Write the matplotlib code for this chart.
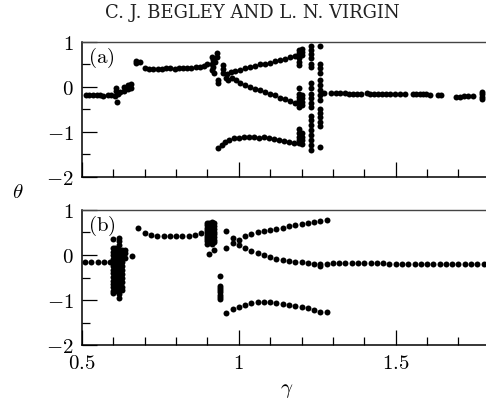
import matplotlib
matplotlib.use("Agg")
import matplotlib.pyplot as plt
from matplotlib.ticker import FixedLocator, FixedFormatter, MultipleLocator, NullFormatter

plt.rcParams["mathtext.fontset"] = "cm"

# ---------------- panel (a): measured response ----------------
a_p1_lo_g = [0.513, 0.523, 0.534, 0.547, 0.557, 0.568, 0.582, 0.591]
a_p1_lo_t = [-0.19, -0.19, -0.18, -0.19, -0.19, -0.20, -0.19, -0.19]

a_tr1_g = [0.605, 0.610, 0.610, 0.612, 0.615, 0.622, 0.633, 0.633, 0.647, 0.647, 0.656, 0.656]
a_tr1_t = [-0.20, -0.10, -0.03, -0.33, -0.16, -0.12, 0.00, -0.09, 0.04, -0.05, 0.06, -0.02]

a_p1_hi_g = [0.672, 0.672, 0.684, 0.700, 0.714, 0.727, 0.741, 0.754, 0.768, 0.781,
             0.795, 0.808, 0.822, 0.835, 0.849, 0.862, 0.876, 0.889]
a_p1_hi_t = [0.58, 0.53, 0.55, 0.41, 0.40, 0.40, 0.40, 0.40, 0.41, 0.41,
             0.40, 0.41, 0.42, 0.42, 0.43, 0.44, 0.45, 0.46]

a_ch1_g = [0.900, 0.915, 0.915, 0.915, 0.918, 0.918, 0.920, 0.924, 0.929, 0.929,
           0.932, 0.934, 0.950, 0.950, 0.950, 0.958, 0.963, 0.967, 0.975, 0.978,
           0.988, 0.990]
a_ch1_t = [0.50, 0.67, 0.52, 0.38, 0.60, 0.45, 0.30, 0.55, 0.76, 0.67,
           0.15, 0.08, 0.49, 0.40, 0.31, 0.20, 0.28, 0.16, 0.33, 0.20,
           0.36, 0.15]

a_p3_g = [1.003, 1.019, 1.035, 1.051, 1.067, 1.083, 1.099, 1.115, 1.131, 1.147, 1.163, 1.179]
a_p3_up = [0.38, 0.41, 0.44, 0.47, 0.50, 0.52, 0.54, 0.57, 0.60, 0.63, 0.66, 0.69]
a_p3_mid = [0.09, 0.03, -0.01, -0.05, -0.08, -0.11, -0.15, -0.19, -0.24, -0.28, -0.32, -0.36]

a_p3_lo_g = [0.934, 0.945, 0.955, 0.970, 0.985, 1.000, 1.016, 1.032, 1.048, 1.064,
             1.080, 1.096, 1.112, 1.128, 1.144, 1.160, 1.176]
a_p3_lo_t = [-1.36, -1.29, -1.23, -1.18, -1.15, -1.14, -1.13, -1.12, -1.13, -1.14,
             -1.13, -1.15, -1.16, -1.18, -1.20, -1.23, -1.26]

a_ch2_g = ([1.192] * 17 + [1.202] * 11 + [1.229] * 20 + [1.258] * 15)
a_ch2_t = ([0.82, 0.76, 0.71, 0.64, 0.56, 0.49, -0.03, -0.15, -0.22, -0.29, -0.37, -0.44,
            -0.93, -1.04, -1.11, -1.19, -1.26]
           + [0.85, 0.78, 0.71, -0.18, -0.26, -0.33, -0.41, -1.04, -1.11, -1.19, -1.28]
           + [0.91, 0.82, 0.73, 0.64, 0.52, 0.44, 0.08, -0.03, -0.15, -0.26, -0.37, -0.46,
              -0.65, -0.74, -0.85, -0.96, -1.08, -1.19, -1.30, -1.40]
           + [0.90, 0.52, 0.41, 0.31, 0.15, 0.04, -0.07, -0.18, -0.29, -0.50, -0.59,
              -0.68, -0.78, -0.88, -1.34])

a_p1_end_g = [1.271, 1.295, 1.311, 1.324, 1.338, 1.351, 1.364, 1.377, 1.391, 1.407,
              1.417, 1.430, 1.443, 1.457, 1.470, 1.483, 1.497, 1.513, 1.529, 1.555,
              1.566, 1.576, 1.587, 1.598, 1.608, 1.635, 1.645, 1.693, 1.704, 1.717,
              1.730, 1.746, 1.774, 1.774, 1.774, 1.774]
a_p1_end_t = [-0.13, -0.13, -0.13, -0.14, -0.14, -0.15, -0.15, -0.16, -0.15, -0.14,
              -0.15, -0.15, -0.16, -0.16, -0.16, -0.15, -0.16, -0.17, -0.17, -0.17,
              -0.17, -0.17, -0.17, -0.17, -0.18, -0.19, -0.19, -0.23, -0.22, -0.21,
              -0.21, -0.20, -0.12, -0.17, -0.22, -0.27]

# ---------------- panel (b): simulated response ----------------
b_p1_lo_g = [0.51, 0.53, 0.55, 0.57, 0.59]
b_p1_lo_t = [-0.15, -0.15, -0.15, -0.15, -0.15]

b_ch1_g = ([0.598] * 15 + [0.606] * 12 + [0.619] * 16 + [0.627] * 11 + [0.638] * 3 + [0.660])
b_ch1_t = ([0.35, 0.15, 0.07, -0.01, -0.09, -0.17, -0.25, -0.33, -0.41, -0.49, -0.57,
            -0.65, -0.72, -0.80, -0.85]
           + [0.15, 0.06, -0.03, -0.12, -0.21, -0.30, -0.39, -0.48, -0.57, -0.66, -0.74, -0.81]
           + [0.37, 0.30, 0.22, 0.12, 0.03, -0.06, -0.15, -0.24, -0.33, -0.42, -0.51,
              -0.60, -0.69, -0.78, -0.87, -0.96]
           + [0.11, 0.02, -0.07, -0.16, -0.25, -0.34, -0.43, -0.52, -0.61, -0.70, -0.78]
           + [0.11, 0.04, -0.07] + [-0.02])

b_p1_hi_g = [0.68, 0.70, 0.72, 0.74, 0.76, 0.78, 0.80, 0.82, 0.84, 0.86, 0.88]
b_p1_hi_t = [0.59, 0.48, 0.44, 0.42, 0.415, 0.415, 0.415, 0.42, 0.43, 0.45, 0.48]

b_ch2_g = ([0.897] * 10 + [0.905] * 10 + [0.913] * 10 + [0.920] * 9)
b_ch2_t = ([0.72, 0.66, 0.60, 0.55, 0.50, 0.45, 0.40, 0.35, 0.30, 0.25]
           + [0.70, 0.64, 0.58, 0.52, 0.47, 0.42, 0.38, 0.33, 0.28, 0.03]
           + [0.74, 0.68, 0.62, 0.56, 0.50, 0.45, 0.40, 0.36, 0.30, 0.25]
           + [0.72, 0.65, 0.58, 0.52, 0.46, 0.40, 0.34, 0.28, 0.10])

b_win_g = [0.940] * 8
b_win_t = [-0.47, -0.68, -0.73, -0.78, -0.83, -0.88, -0.93, -0.98]

b_p3_g = [0.96, 0.98, 1.00, 1.02, 1.04, 1.06, 1.08, 1.10, 1.12, 1.14,
          1.16, 1.18, 1.20, 1.22, 1.24, 1.26, 1.28]
b_p3_up = [0.54, 0.37, 0.34, 0.43, 0.47, 0.50, 0.53, 0.555, 0.58, 0.61,
           0.635, 0.665, 0.69, 0.71, 0.73, 0.75, 0.77]
b_p3_mid = [0.15, 0.27, 0.23, 0.15, 0.08, 0.04, 0.00, -0.04, -0.08, -0.115,
            -0.135, -0.15, -0.165, -0.175, -0.19, -0.235, -0.205]
b_p3_lo = [-1.29, -1.20, -1.15, -1.10, -1.07, -1.05, -1.05, -1.05, -1.06, -1.08,
           -1.11, -1.13, -1.16, -1.18, -1.22, -1.26, -1.27]

b_p1_end_g = [1.26, 1.30, 1.32, 1.34, 1.36, 1.38, 1.40, 1.42, 1.44, 1.46, 1.48,
              1.50, 1.52, 1.54, 1.56, 1.58, 1.60, 1.62, 1.64, 1.66, 1.68, 1.70,
              1.72, 1.74, 1.76, 1.78]
b_p1_end_t = [-0.20, -0.18, -0.18, -0.18, -0.18, -0.18, -0.18, -0.18, -0.185, -0.185,
              -0.19, -0.19, -0.19, -0.19, -0.19, -0.19, -0.19, -0.19, -0.19, -0.19,
              -0.195, -0.195, -0.195, -0.195, -0.20, -0.20]

x_tick_vals = [0.5, 1.0, 1.5]
x_tick_labels = ["0.5", "1", "1.5"]
y_tick_vals = [-2, -1, 0, 1]
y_tick_labels = ["-2", "-1", "0", "1"]

a_sets = [(a_p1_lo_g, a_p1_lo_t), (a_tr1_g, a_tr1_t), (a_p1_hi_g, a_p1_hi_t),
          (a_ch1_g, a_ch1_t), (a_p3_g, a_p3_up), (a_p3_g, a_p3_mid),
          (a_p3_lo_g, a_p3_lo_t), (a_ch2_g, a_ch2_t), (a_p1_end_g, a_p1_end_t)]
b_sets = [(b_p1_lo_g, b_p1_lo_t), (b_ch1_g, b_ch1_t), (b_p1_hi_g, b_p1_hi_t),
          (b_ch2_g, b_ch2_t), (b_win_g, b_win_t), (b_p3_g, b_p3_up),
          (b_p3_g, b_p3_mid), (b_p3_g, b_p3_lo), (b_p1_end_g, b_p1_end_t)]

fig = plt.figure(figsize=(4.86, 4.08), dpi=100)
ax_a = fig.add_axes([0.1687, 0.5674, 0.8391, 0.3297])
ax_b = fig.add_axes([0.1687, 0.1544, 0.8391, 0.3309])


def style(ax, show_x):
    ax.set_xlim(0.5, 1.8)
    ax.set_ylim(-2, 1)
    ax.xaxis.set_major_locator(FixedLocator(x_tick_vals))
    ax.xaxis.set_minor_locator(MultipleLocator(0.1))
    ax.yaxis.set_major_locator(FixedLocator(y_tick_vals))
    ax.yaxis.set_minor_locator(MultipleLocator(0.5))
    if show_x:
        ax.xaxis.set_major_formatter(FixedFormatter(["$%s$" % s for s in x_tick_labels]))
    else:
        ax.xaxis.set_major_formatter(NullFormatter())
    ax.yaxis.set_major_formatter(FixedFormatter(["$%s$" % s for s in y_tick_labels]))
    ax.tick_params(which="both", direction="in", top=False, right=False, width=0.9, color="black")
    ax.tick_params(which="major", length=11)
    ax.tick_params(which="minor", length=5.5)
    ax.tick_params(axis="y", which="major", pad=6, labelsize=15)
    ax.tick_params(axis="x", which="major", pad=6, labelsize=15)
    for side in ("left", "bottom"):
        ax.spines[side].set_linewidth(1.1)
    ax.spines["top"].set_linewidth(1.0)
    ax.spines["top"].set_color("#444444")
    ax.spines["right"].set_visible(False)


for ax, sets in ((ax_a, a_sets), (ax_b, b_sets)):
    for g, t in sets:
        ax.plot(g, t, linestyle="none", marker="o", ms=4.3, color="black", mec="black", mew=0)

style(ax_a, False)
style(ax_b, True)

ax_a.text(0.015, 0.885, r"$\mathrm{(a)}$", transform=ax_a.transAxes, ha="left", va="center", fontsize=15)
ax_b.text(0.015, 0.885, r"$\mathrm{(b)}$", transform=ax_b.transAxes, ha="left", va="center", fontsize=15)

fig.text(0.037, 0.529, r"$\theta$", ha="center", va="center", fontsize=15)
fig.text(0.59, 0.044, r"$\gamma$", ha="center", va="center", fontsize=15)
fig.text(0.519, 0.968, "C. J. BEGLEY AND L. N. VIRGIN", ha="center", va="center",
         fontsize=13, family="DejaVu Serif", color="#222222")

fig.savefig("out.png", dpi=100)
